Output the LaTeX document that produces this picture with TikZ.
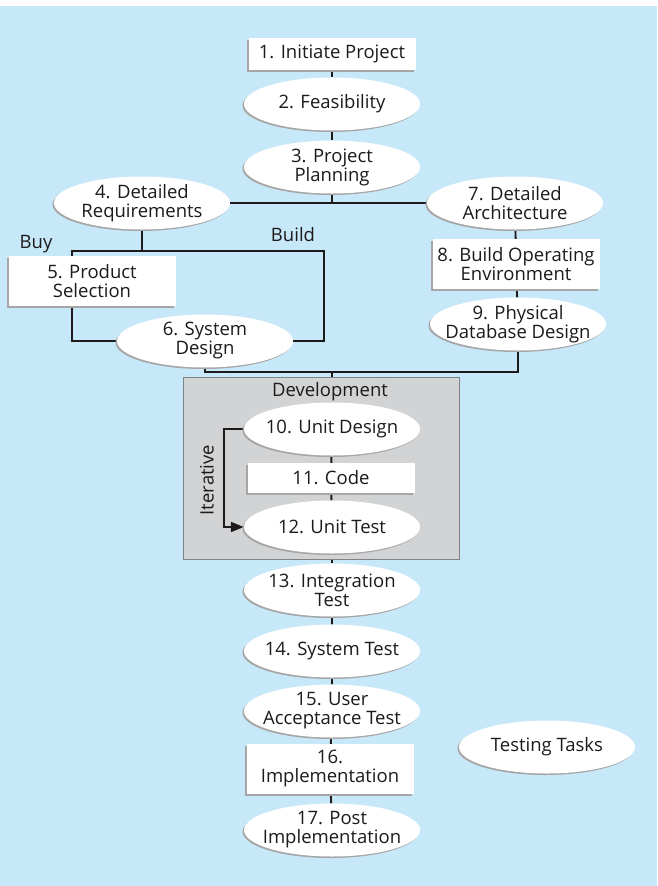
\documentclass[tikz,border=0pt]{standalone}
\usepackage{fontspec}
\setmainfont{Open Sans}
\usetikzlibrary{shapes.geometric,shadows,arrows.meta}
\definecolor{skyblue}{RGB}{198,232,248}
\definecolor{devgray}{RGB}{209,211,212}
\definecolor{edgegray}{RGB}{128,130,133}
\definecolor{inkblack}{RGB}{30,26,27}
\pgfdeclarelayer{bg}
\pgfdeclarelayer{lines}
\pgfsetlayers{bg,lines,main}
\begin{document}
\begin{tikzpicture}[x=1pt, y=-1pt,
  font=\fontsize{18.5}{19}\selectfont, text=inkblack,
  task/.style={ellipse, fill=white, minimum width=176pt, minimum height=53pt,
    inner xsep=-14pt, inner ysep=-4pt, align=center,
    drop shadow={shadow xshift=-1.5pt, shadow yshift=-1.5pt, fill=black!35, opacity=1}},
  taskbox/.style={rectangle, fill=white, minimum width=167pt, minimum height=50pt,
    inner sep=0pt, align=center,
    drop shadow={shadow xshift=-1.5pt, shadow yshift=-1.5pt, fill=black!35, opacity=1}},
  link/.style={line width=1.9pt, draw=inkblack}]
\useasboundingbox (0,0) rectangle (657,886);
% background and development block
\begin{pgfonlayer}{bg}
\fill[skyblue] (0,6) rectangle (657,886);
\node[draw=edgegray, fill=devgray, line width=1pt, minimum width=276pt,
  minimum height=182pt, inner sep=0pt] (dev) at (321,468) {};
\end{pgfonlayer}
% planning
\node[taskbox, minimum height=32pt] (n1) at (332,54) {1. Initiate Project};
\node[task] (n2) at (332,104) {2. Feasibility};
\node[task] (n3) at (332,167) {3. Project\\Planning};
\node[task] (n4) at (142,203) {4. Detailed\\Requirements};
\node[task] (n7) at (515,203) {7. Detailed\\Architecture};
\node[taskbox] (n8) at (516,264) {8. Build Operating\\Environment};
\node[task] (n9) at (518,324) {9. Physical\\Database Design};
\node[taskbox] (n5) at (92,281) {5. Product\\Selection};
\node[task] (n6) at (205,341) {6. System\\Design};
\node (buylabel) at (36,244) {Buy};
\node (buildlabel) at (293,235) {Build};
% development
\node (devlabel) at (330,392) {Development};
\node[task] (n10) at (332,429) {10. Unit Design};
\node[taskbox, minimum height=30pt] (n11) at (331,478) {11. Code};
\node[task] (n12) at (332,527) {12. Unit Test};
\node[rotate=90] (iterlabel) at (207,480) {Iterative};
% testing
\node[task] (n13) at (332,590) {13. Integration\\Test};
\node[task] (n14) at (332,651) {14. System Test};
\node[task] (n15) at (332,711) {15. User\\Acceptance Test};
\node[taskbox] (n16) at (330,769) {16.\\Implementation};
\node[task] (n17) at (332,830) {17. Post\\Implementation};
\node[task] (legend) at (547,747) {Testing Tasks};
% connectors
\begin{pgfonlayer}{lines}
\coordinate (j1) at (332,203);
\coordinate (buy) at (72,251);
\coordinate (build) at (324,251);
\coordinate (j2) at (332,372);
\draw[link] (n1) -- (n2) -- (n3) -- (j1);
\draw[link] (n4) -- (n7);
\draw[link] (n4) -- (n4 |- buy);
\draw[link] (n6.west) -| (buy) -- (build) |- (n6.east);
\draw[link] (n7) -- (n8) -- (n9);
\draw[link] (n6) |- (j2) -| (n9);
\draw[link] (j2) -- (j2 |- dev.north);
\draw[link] (n10) -- (n11) -- (n12);
\draw[link, -{Triangle[length=13pt,width=10pt]}] (n10.west) -- ++(-20,0) |- (n12.west);
\draw[link] (n12 |- dev.south) -- (n13);
\draw[link] (n13) -- (n14) -- (n15) -- (n16) -- (n17);
\end{pgfonlayer}
\end{tikzpicture}
\end{document}
